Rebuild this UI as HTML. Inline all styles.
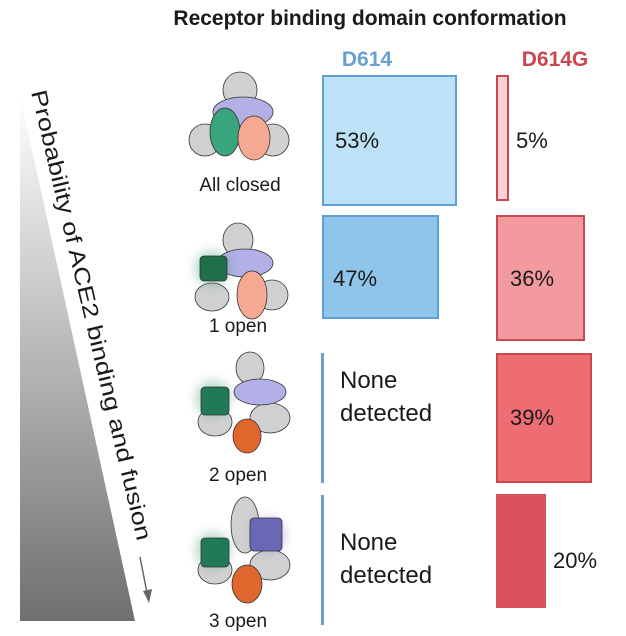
<!DOCTYPE html>
<html><head><style>
html,body{margin:0;padding:0;background:#fff;}
svg{display:block;font-family:"Liberation Sans",Arial,sans-serif;}
</style></head><body>
<svg width="626" height="636" viewBox="0 0 626 636">
<defs>
<linearGradient id="tri" x1="0" y1="0" x2="0" y2="1">
<stop offset="0" stop-color="#ffffff"/><stop offset="1" stop-color="#6f6f6f"/>
</linearGradient>
<filter id="glow" x="-50%" y="-50%" width="200%" height="200%"><feGaussianBlur stdDeviation="5"/></filter>
</defs>
<text x="370" y="25" font-size="21" font-weight="bold" text-anchor="middle" fill="#1a1a1a">Receptor binding domain conformation</text>
<text x="367" y="66" font-size="21" font-weight="bold" text-anchor="middle" fill="#6a9fd3">D614</text>
<text x="555" y="66" font-size="21" font-weight="bold" text-anchor="middle" fill="#c9474f">D614G</text>

<polygon points="20,95 20,621 135,621" fill="url(#tri)"/>
<text transform="translate(31,92) rotate(76.7)" font-size="22" fill="#1a1a1a" textLength="462" lengthAdjust="spacingAndGlyphs">Probability of ACE2 binding and fusion</text>
<line x1="140" y1="557" x2="148" y2="598" stroke="#666" stroke-width="1.5"/>
<polygon points="149,603 143,591 152,589" fill="#666"/>

<!-- row boxes -->
<rect x="323" y="76" width="133" height="129" fill="#bde1f7" stroke="#5f9fd6" stroke-width="2"/>
<text x="335" y="148" font-size="22" fill="#1a1a1a">53%</text>
<rect x="497" y="76" width="11" height="124" fill="#f9d2d4" stroke="#c9474f" stroke-width="2"/>
<text x="516" y="148" font-size="22" fill="#1a1a1a">5%</text>

<rect x="323" y="216" width="115" height="102" fill="#8fc5eb" stroke="#5f9fd6" stroke-width="2"/>
<text x="333" y="286" font-size="22" fill="#1a1a1a">47%</text>
<rect x="497" y="216" width="87" height="124" fill="#f39a9e" stroke="#c9474f" stroke-width="2"/>
<text x="510" y="286" font-size="22" fill="#1a1a1a">36%</text>

<rect x="321" y="353" width="3" height="130" fill="#6a9fd3"/>
<text x="340" y="388" font-size="24" fill="#1a1a1a">None</text>
<text x="340" y="421" font-size="24" fill="#1a1a1a">detected</text>
<rect x="497" y="354" width="94" height="128" fill="#ee6d73" stroke="#c9474f" stroke-width="2"/>
<text x="510" y="425" font-size="22" fill="#1a1a1a">39%</text>

<rect x="321" y="495" width="3" height="130" fill="#6a9fd3"/>
<text x="340" y="550" font-size="24" fill="#1a1a1a">None</text>
<text x="340" y="583" font-size="24" fill="#1a1a1a">detected</text>
<rect x="496" y="494" width="50" height="114" fill="#d9515d"/>
<text x="553" y="568" font-size="22" fill="#1a1a1a">20%</text>

<!-- proteins -->
<g stroke="#333" stroke-width="0.8">
<!-- row1 -->
<g>
<ellipse cx="240" cy="90" rx="17" ry="18" fill="#d0d0d0"/>
<ellipse cx="205" cy="140" rx="16" ry="16" fill="#d0d0d0"/>
<ellipse cx="273" cy="140" rx="16" ry="16" fill="#d0d0d0"/>
<ellipse cx="243" cy="112" rx="30" ry="15" fill="#b2b0e6"/>
<ellipse cx="225" cy="132" rx="15" ry="24" fill="#3aa57c"/>
<ellipse cx="254" cy="138" rx="16" ry="22" fill="#f6a992"/>
</g>
<text x="240" y="191" font-size="19" text-anchor="middle" fill="#1a1a1a" stroke="none">All closed</text>
<!-- row2 -->
<g>
<ellipse cx="238" cy="240" rx="15" ry="17" fill="#d0d0d0"/>
<ellipse cx="212" cy="297" rx="17" ry="14" fill="#d0d0d0"/>
<ellipse cx="272" cy="295" rx="16" ry="15" fill="#d0d0d0"/>
<ellipse cx="245" cy="263" rx="28" ry="14" fill="#b2b0e6"/>
<circle cx="212" cy="268" r="18" fill="#2a8a5e" opacity="0.3" stroke="none" filter="url(#glow)"/>
<rect x="200" y="256" width="27" height="25" rx="4" fill="#1f6e4c"/>
<ellipse cx="252" cy="295" rx="15" ry="24" fill="#f6a992"/>
</g>
<text x="238" y="332" font-size="19" text-anchor="middle" fill="#1a1a1a" stroke="none">1 open</text>
<!-- row3 -->
<g>
<ellipse cx="250" cy="368" rx="14" ry="16" fill="#d0d0d0"/>
<ellipse cx="215" cy="422" rx="17" ry="14" fill="#d0d0d0"/>
<ellipse cx="270" cy="418" rx="20" ry="15" fill="#d0d0d0"/>
<ellipse cx="260" cy="392" rx="26" ry="13" fill="#b2b0e6"/>
<circle cx="213" cy="398" r="18" fill="#2a8a5e" opacity="0.3" stroke="none" filter="url(#glow)"/>
<rect x="201" y="387" width="28" height="28" rx="4" fill="#1f7a55"/>
<ellipse cx="247" cy="436" rx="14" ry="17" fill="#e0662d"/>
</g>
<text x="238" y="481" font-size="19" text-anchor="middle" fill="#1a1a1a" stroke="none">2 open</text>
<!-- row4 -->
<g>
<ellipse cx="245" cy="525" rx="14" ry="28" fill="#d0d0d0"/>
<ellipse cx="215" cy="570" rx="17" ry="14" fill="#d0d0d0"/>
<ellipse cx="270" cy="565" rx="20" ry="15" fill="#d0d0d0"/>
<circle cx="268" cy="535" r="18" fill="#7a5fc0" opacity="0.3" stroke="none" filter="url(#glow)"/>
<rect x="250" y="518" width="32" height="33" rx="4" fill="#6a67b4"/>
<circle cx="213" cy="550" r="18" fill="#2a8a5e" opacity="0.3" stroke="none" filter="url(#glow)"/>
<rect x="201" y="538" width="28" height="29" rx="4" fill="#1f7a55"/>
<ellipse cx="247" cy="584" rx="15" ry="19" fill="#e0662d"/>
</g>
<text x="238" y="627" font-size="19" text-anchor="middle" fill="#1a1a1a" stroke="none">3 open</text>
</g>
</svg>
</body></html>
